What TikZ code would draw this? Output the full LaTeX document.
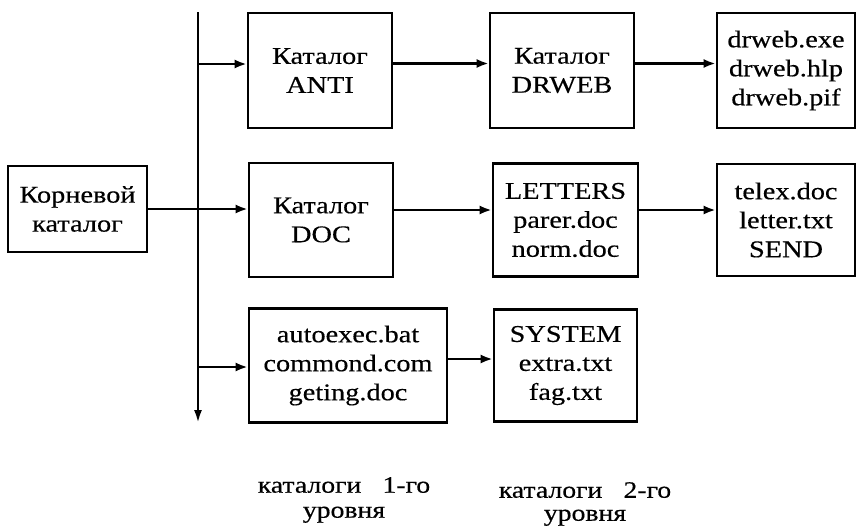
\documentclass[tikz,border=0pt]{standalone}
\usepackage{fontspec}
\setmainfont{Liberation Serif}[FakeStretch=1.18, FakeBold=0.4]
\usetikzlibrary{arrows.meta}

\begin{document}
\begin{tikzpicture}[x=1pt, y=-1pt, >={Latex[length=12pt,width=9pt]},
  box/.style={draw, line width=2.6pt, inner sep=0pt, align=center,
              font=\fontsize{24}{29}\selectfont},
  link/.style={->, line width=2.4pt},
  lab/.style={align=center, inner sep=0pt, font=\fontsize{23.5}{25}\selectfont}]
\useasboundingbox (0,0) rectangle (857,525);
% root and the common line
\node[box, minimum width=139pt, minimum height=86pt] (root) at (77.5,209) {Корневой\\каталог};
\coordinate (bustop) at (198,12);
\coordinate (busend) at (198,423);
\draw[link, >={Latex[length=13pt,width=8pt]}] (bustop) -- (busend);
% level 1
\node[box, minimum width=144pt, minimum height=115pt] (anti) at (320,70.5) {Каталог\\ANTI};
\node[box, minimum width=144pt, minimum height=114pt] (doc) at (321,220) {Каталог\\DOC};
\node[box, minimum width=198pt, minimum height=114pt] (auto) at (348,365.5)
  {autoexec.bat\\commond.com\\geting.doc};
% level 2
\node[box, minimum width=144pt, minimum height=115pt] (drweb) at (562,70.5) {Каталог\\DRWEB};
\node[box, minimum width=145pt, minimum height=113pt] (letters) at (565.5,220)
  {LETTERS\\parer.doc\\norm.doc};
\node[box, minimum width=143pt, minimum height=112pt] (system) at (565.5,365.5)
  {SYSTEM\\extra.txt\\fag.txt};
% files
\node[box, minimum width=138pt, minimum height=115pt] (drfiles) at (786,70.5)
  {drweb.exe\\drweb.hlp\\drweb.pif};
\node[box, minimum width=138pt, minimum height=112pt] (telex) at (786,220)
  {telex.doc\\letter.txt\\SEND};
% arrows
\coordinate (b1) at (198,64);
\coordinate (b3) at (198,367);
\draw[link] (b1) -- (b1 -| anti.west);
\draw[link] (root.east) -- (root.east -| doc.west);
\draw[link] (b3) -- (b3 -| auto.west);
\draw[link] ([yshift=7pt]anti.east) -- ([yshift=7pt]drweb.west);
\draw[link] ([yshift=7pt]drweb.east) -- ([yshift=7pt]drfiles.west);
\draw[link] ([yshift=10pt]doc.east) -- ([yshift=10pt]letters.west);
\draw[link] ([yshift=10pt]letters.east) -- ([yshift=10pt]telex.west);
\draw[link] ([yshift=6.5pt]auto.east) -- ([yshift=6.5pt]system.west);
% captions
\node[lab] (cap1) at (344,500) {каталоги\hspace{0.9em}1-го\\уровня};
\node[lab, font=\fontsize{23.5}{23}\selectfont] (cap2) at (585,504) {каталоги\hspace{0.9em}2-го\\уровня};
\end{tikzpicture}
\end{document}
